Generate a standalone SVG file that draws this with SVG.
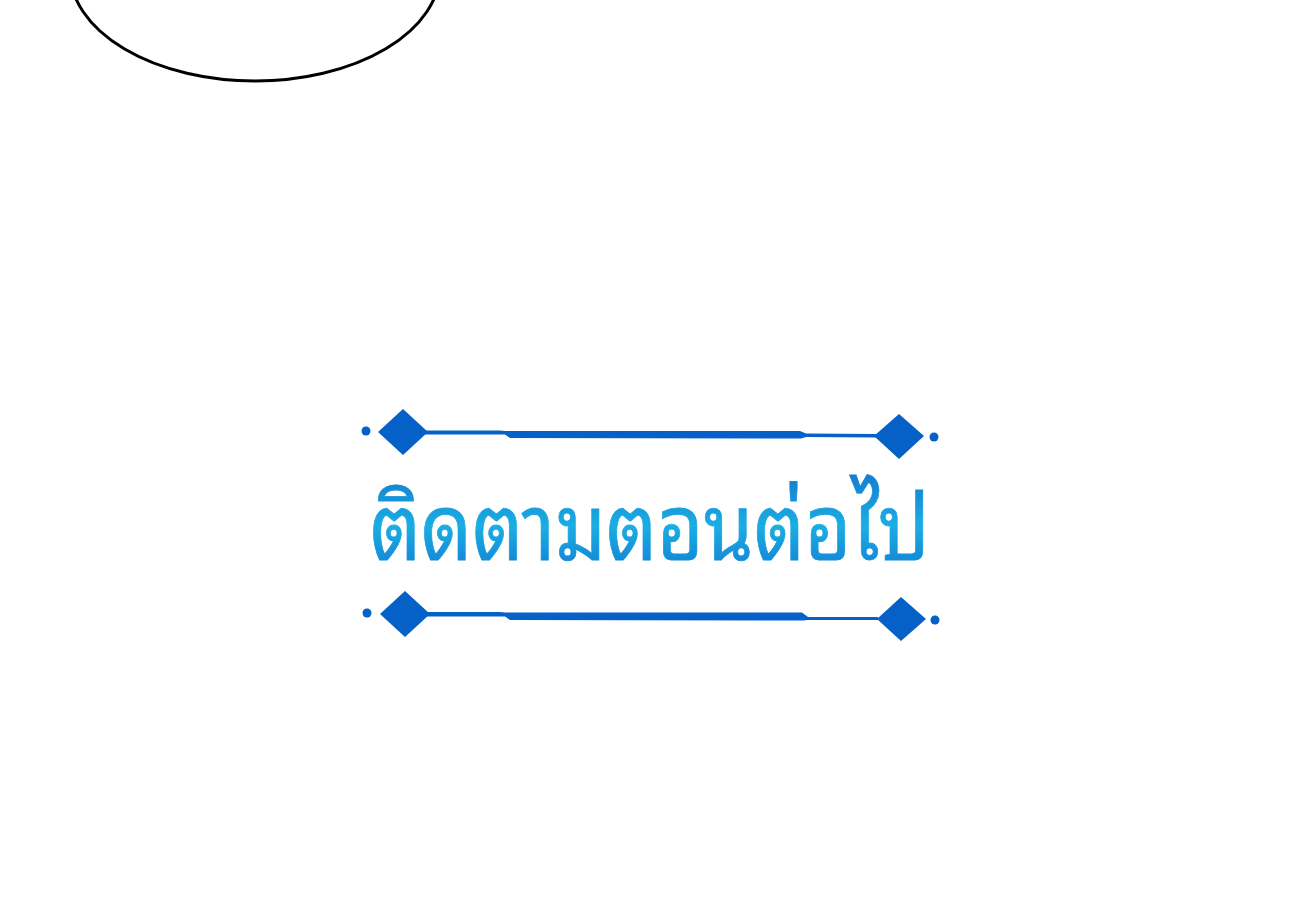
<svg xmlns="http://www.w3.org/2000/svg" width="1300" height="920" viewBox="0 0 1300 920">
<defs>
<style>
.deco{fill:#0560c8}
.ttl{font-family:"Noto Sans Thai Looped","Loma","Garuda","Sawasdee","Tlwg Typo","Noto Serif Thai","Noto Sans",sans-serif;font-size:92px;font-weight:400}
</style>
<linearGradient id="tg" x1="0" y1="0" x2="0" y2="1">
<stop offset="0" stop-color="#0f62c8"/>
<stop offset="0.55" stop-color="#1aaee2"/>
<stop offset="1" stop-color="#0f6cd0"/>
</linearGradient>
</defs>
<rect width="1300" height="920" fill="#fff"/>
<g id="bubble">
<ellipse cx="255" cy="-29" rx="185" ry="110" fill="none" stroke="#000" stroke-width="3"/>
</g>
<g id="ornament-top" class="deco">
<circle cx="366" cy="431" r="4.5"/>
<polygon points="378,432 403,409 428,432 403,455"/>
<polygon points="425,430.5 500,430.5 505,431 800,431 806,433.5 876,434 876,437.5 806,437 801,438.5 510,438 505,434.5 425,434.5"/>
<polygon points="874,436 899,414 924,436 899,459"/>
<circle cx="934" cy="437" r="4.5"/>
</g>
<g id="ornament-bottom" class="deco">
<circle cx="367" cy="613" r="4.5"/>
<polygon points="380,614 405,591 430,614 405,637"/>
<polygon points="427,612 500,612 505,612.5 802,612.5 808,617 878,617 878,620 808,620 803,620.5 510,620 505,616.5 427,616.5"/>
<polygon points="877,619 901,597 926,619 901,641"/>
<circle cx="935" cy="620" r="4.5"/>
</g>
<g id="title">
<text class="ttl" x="370" y="560" textLength="560" lengthAdjust="spacingAndGlyphs" fill="url(#tg)" stroke="url(#tg)" stroke-width="0.8">ติดตามตอนต่อไป</text>
</g>
</svg>
